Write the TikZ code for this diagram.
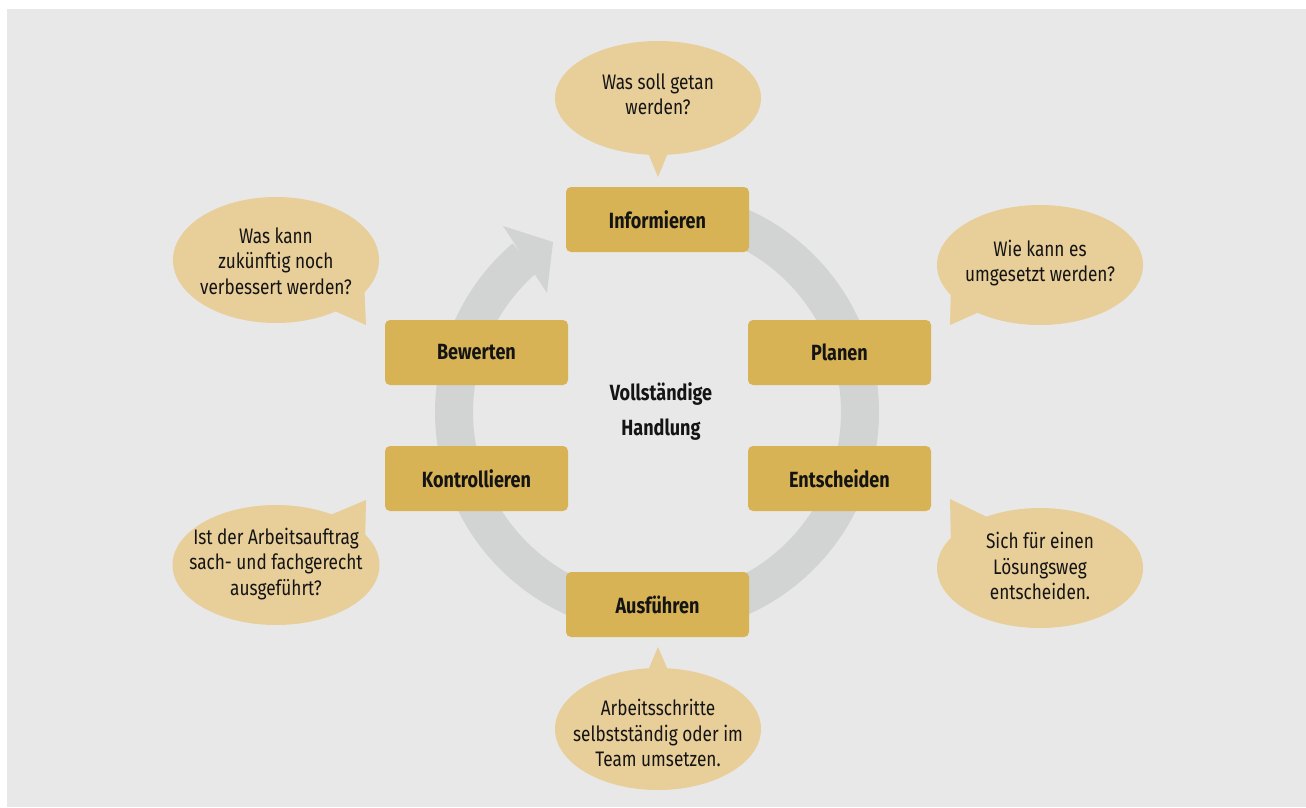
\documentclass[tikz,border=0pt]{standalone}
\usepackage{fontspec}
\setmainfont{Fira Sans}[FakeStretch=0.82]
\usetikzlibrary{shapes.geometric}
\definecolor{bgc}{HTML}{E8E8E8}
\definecolor{ringc}{HTML}{D2D3D3}
\definecolor{boxc}{HTML}{D8B356}
\definecolor{bubc}{HTML}{E8CE99}
\definecolor{txtc}{HTML}{141414}
\newcommand{\boxlbl}[1]{\raisebox{-2pt}{#1}}
\tikzset{
  stepbox/.style={fill=boxc, rounded corners=5pt, minimum width=183pt, minimum height=65pt,
    inner sep=0pt, text=txtc, font=\fontsize{22}{25}\selectfont\bfseries},
  bubble/.style={ellipse, fill=bubc, inner sep=0pt},
  btext/.style={text=txtc, align=center, font=\fontsize{21}{25.5}\selectfont},
  tail/.style={fill=bubc},
}
\begin{document}
\begin{tikzpicture}[x=1pt,y=-1pt]
\useasboundingbox (0,0) rectangle (1306,807);
\fill[white] (0,0) rectangle (1306,807);
\fill[bgc] (7,9) rectangle (1306,807);

% ring with arrow
\coordinate (c) at (657,412);
\draw[ringc, line width=38pt] ([shift={(-90:203)}]c) arc[start angle=-90, end angle=229.5, radius=203];
\fill[ringc] (503,226) -- (553,242) -- (547,293) -- cycle;

% bubbles
\fill[tail] (646,148) -- (670,148) -- (658,177) -- cycle;
\node[bubble, minimum width=206pt, minimum height=114pt] (b1) at (658,98) {};
\node[btext] (t1) at (658,94) {Was soll getan\\werden?};

\fill[tail] (951,285) -- (950,325) -- (987,308.5) -- cycle;
\node[bubble, minimum width=206pt, minimum height=120pt] (b2) at (1040,265) {};
\node[btext] (t2) at (1040,263) {Wie kann es\\umgesetzt werden?};

\fill[tail] (951,545) -- (950,499) -- (988,517.5) -- cycle;
\node[bubble, minimum width=206pt, minimum height=120pt] (b3) at (1040,568) {};
\node[btext] (t3) at (1040,566) {Sich für einen\\Lösungsweg\\entscheiden.};

\fill[tail] (646,675) -- (670,675) -- (658,647) -- cycle;
\node[bubble, minimum width=206pt, minimum height=122pt] (b4) at (658,729) {};
\node[btext] (t4) at (658,733) {Arbeitsschritte\\selbstständig oder im\\Team umsetzen.};

\fill[tail] (365,545) -- (366,500) -- (328,516) -- cycle;
\node[bubble, minimum width=207pt, minimum height=120pt] (b5) at (276,565) {};
\node[btext] (t5) at (276,564) {Ist der Arbeitsauftrag\\sach- und fachgerecht\\ausgeführt?};

\fill[tail] (364,280) -- (366,325) -- (327,307.5) -- cycle;
\node[bubble, minimum width=206pt, minimum height=126pt] (b6) at (276,260) {};
\node[btext] (t6) at (276,261) {Was kann\\zukünftig noch\\verbessert werden?};

% boxes
\node[stepbox] (inf) at (657.5,219.5) {\boxlbl{Informieren}};
\node[stepbox] (pla) at (839.5,352.5) {\boxlbl{Planen}};
\node[stepbox] (ent) at (839.5,478.5) {\boxlbl{Entscheiden}};
\node[stepbox] (aus) at (657.5,604.5) {\boxlbl{Ausführen}};
\node[stepbox] (kon) at (476.5,478.5) {\boxlbl{Kontrollieren}};
\node[stepbox] (bew) at (476.5,352.5) {\boxlbl{Bewerten}};

% centre text
\node[text=txtc, align=center, font=\fontsize{22}{35}\selectfont\bfseries] (ctr) at (661,411.5) {Vollständige\\Handlung};
\end{tikzpicture}
\end{document}
